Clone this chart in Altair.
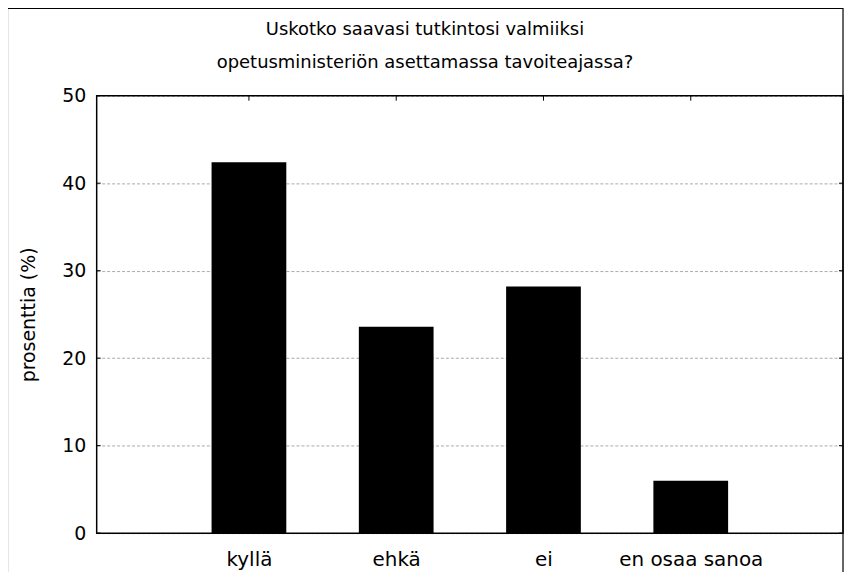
import altair as alt
import pandas as pd

# ---- data ----
categories = ["kyllä", "ehkä", "ei", "en osaa sanoa"]
values = [42.4, 23.6, 28.2, 6.0]
positions = [1, 2, 3, 4]
y_ticks = [0, 10, 20, 30, 40, 50]
title_lines = ["Uskotko saavasi tutkintosi valmiiksi",
               "opetusministeriön asettamassa tavoiteajassa?"]
y_title = "prosenttia (%)"

FONT = "DejaVu Sans"
W, H = 749, 439
PAD_L, PAD_T = 89, 87

df = pd.DataFrame({"pos": positions, "cat": categories, "val": values})
tick_df = pd.DataFrame({"val": y_ticks})
pos_df = pd.DataFrame({"pos": positions})
one = pd.DataFrame({"a": [0]})
t1 = pd.DataFrame({"t": [title_lines[0]]})
t2 = pd.DataFrame({"t": [title_lines[1]]})

label_expr = "[" + ",".join(["''"] + ["'" + c + "'" for c in categories]) + "][datum.value]"

xscale = alt.Scale(domain=[0, 5], nice=False, zero=False)
yscale = alt.Scale(domain=[0, 50], nice=False)

x_axis = alt.Axis(values=positions, labelExpr=label_expr, title=None,
                  ticks=False, domain=False, grid=False,
                  labelPadding=16, labelFontSize=20, labelFont=FONT,
                  labelColor="black")
y_axis = alt.Axis(values=y_ticks, grid=True, gridDash=[3, 2],
                  gridColor="#aaaaaa", gridWidth=1,
                  ticks=False, domain=False, labelPadding=11,
                  labelFontSize=19, labelFont=FONT, labelColor="black",
                  title=y_title, titleAngle=-90, titleX=-68, titleY=H / 2,
                  titleFontSize=19, titleFont=FONT, titleFontWeight="normal",
                  titleAlign="center", titleBaseline="middle",
                  titleColor="black")

bars = alt.Chart(df).mark_bar(color="black", size=75).encode(
    x=alt.X("pos:Q", scale=xscale, axis=x_axis),
    y=alt.Y("val:Q", scale=yscale, axis=y_axis),
)

left_ticks = alt.Chart(tick_df).mark_rule(color="black", strokeWidth=1).encode(
    y=alt.Y("val:Q", scale=yscale, axis=y_axis),
    x=alt.value(0), x2=alt.value(4))
right_ticks = alt.Chart(tick_df).mark_rule(color="black", strokeWidth=1).encode(
    y=alt.Y("val:Q", scale=yscale, axis=y_axis),
    x=alt.value(W - 4), x2=alt.value(W))
top_ticks = alt.Chart(pos_df).mark_rule(color="black", strokeWidth=1).encode(
    x=alt.X("pos:Q", scale=xscale, axis=x_axis),
    y=alt.value(0), y2=alt.value(5))

plot_frame = alt.Chart(one).mark_rect(fillOpacity=0, stroke="black", strokeWidth=1.5).encode(
    x=alt.value(0), x2=alt.value(W), y=alt.value(0), y2=alt.value(H))
outer_frame = alt.Chart(one).mark_rect(fillOpacity=0, stroke="black", strokeWidth=1.2).encode(
    x=alt.value(-89.5), x2=alt.value(W), y=alt.value(-87.5), y2=alt.value(H + 200))

title1 = alt.Chart(t1).mark_text(font=FONT, fontSize=18, color="black",
                                 align="center", baseline="alphabetic").encode(
    text="t:N", x=alt.value(W / 2 - 45), y=alt.value(-61))
title2 = alt.Chart(t2).mark_text(font=FONT, fontSize=18, color="black",
                                 align="center", baseline="alphabetic").encode(
    text="t:N", x=alt.value(W / 2 - 45), y=alt.value(-28))

chart = alt.layer(bars, left_ticks, right_ticks, top_ticks, plot_frame, outer_frame,
                  title1, title2).properties(
    width=W, height=H,
    autosize=alt.AutoSizeParams(type="none"),
    padding={"left": PAD_L, "top": PAD_T, "right": 2, "bottom": 40},
).configure(font=FONT, background="white").configure_view(stroke=None)

chart.save("out.html", embed_options={"renderer": "svg", "actions": False})
